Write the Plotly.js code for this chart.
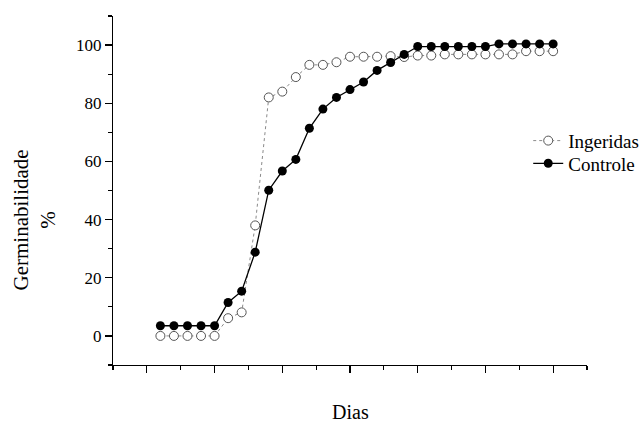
<!DOCTYPE html>
<html>
<head>
<meta charset="utf-8">
<script src="https://cdn.plot.ly/plotly-3.0.1.min.js"></script>
<style>html,body{margin:0;padding:0;background:#fff;}#chart{width:641px;height:422px;}</style>
</head>
<body>
<div id="chart"></div>
<script>
const dias = [1,2,3,4,5,6,7,8,9,10,11,12,13,14,15,16,17,18,19,20,21,22,23,24,25,26,27,28,29,30];
const ingeridas = [0,0,0,0,0,6.1,8.1,38.0,82.0,84.0,89.0,93.2,93.2,94.1,96.0,96.0,96.0,96.2,95.9,96.4,96.4,96.8,96.8,96.8,96.8,96.8,96.8,97.9,97.9,97.9];
const controle = [3.5,3.5,3.5,3.5,3.5,11.5,15.4,28.8,50.1,56.7,60.7,71.4,78.0,82.0,84.7,87.3,91.3,94.0,96.8,99.5,99.5,99.5,99.5,99.5,99.5,100.4,100.4,100.4,100.4,100.4];
const seriesNames = ["Ingeridas", "Controle"];
const yTitle = "Germinabilidade<br>%";
const xTitle = "Dias";

const font = "Liberation Serif";
const traces = [
  {x: dias, y: ingeridas, name: seriesNames[0], mode: "lines+markers", type: "scatter", legend: "legend",
   line: {color: "#8a8a8a", width: 1, dash: "dot"},
   marker: {symbol: "circle", size: 9, color: "#ffffff", line: {color: "#555555", width: 1}}},
  {x: dias, y: controle, name: seriesNames[1], mode: "lines+markers", type: "scatter", legend: "legend2",
   line: {color: "#000000", width: 1.3},
   marker: {symbol: "circle", size: 9, color: "#000000", line: {color: "#000000", width: 0}}}
];
const legendBase = {xanchor: "left", yanchor: "top", bgcolor: "rgba(0,0,0,0)",
                    font: {family: font, size: 19, color: "#000"}};
const layout = {
  width: 641, height: 422,
  margin: {l: 112.5, r: 54.3, t: 16, b: 57, autoexpand: false},
  paper_bgcolor: "#fff", plot_bgcolor: "#fff",
  font: {family: font, color: "#000", size: 17},
  showlegend: true,
  legend: Object.assign({x: 0.876, y: 0.697}, legendBase),
  legend2: Object.assign({x: 0.876, y: 0.632}, legendBase),
  xaxis: {range: [-2.5, 32.5], showgrid: false, zeroline: false, showline: true, linecolor: "#000", linewidth: 1.2,
          ticks: "outside", tick0: 0, dtick: 5, ticklen: 7, tickcolor: "#000", tickwidth: 1.2, showticklabels: false,
          minor: {ticks: "outside", dtick: 2.5, tick0: 0, ticklen: 4, tickcolor: "#000", tickwidth: 1.2, showgrid: false}},
  yaxis: {range: [-10, 110], showgrid: false, zeroline: false, showline: true, linecolor: "#000", linewidth: 1.2,
          ticks: "outside", tick0: 0, dtick: 20, ticklen: 7, tickcolor: "#000", tickwidth: 1.2,
          tickfont: {family: font, size: 17, color: "#000"},
          minor: {ticks: "outside", dtick: 10, tick0: 0, ticklen: 4, tickcolor: "#000", tickwidth: 1.2, showgrid: false}},
  annotations: [
    {text: yTitle, xref: "paper", yref: "paper", x: -0.166, y: 0.415, xanchor: "center", yanchor: "middle",
     textangle: -90, showarrow: false, font: {family: font, size: 21, color: "#000"}},
    {text: xTitle, xref: "paper", yref: "paper", x: 0.5, y: -0.136, xanchor: "center", yanchor: "middle",
     showarrow: false, font: {family: font, size: 20, color: "#000"}}
  ]
};
Plotly.newPlot("chart", traces, layout, {displayModeBar: false, staticPlot: true});
</script>
</body>
</html>
